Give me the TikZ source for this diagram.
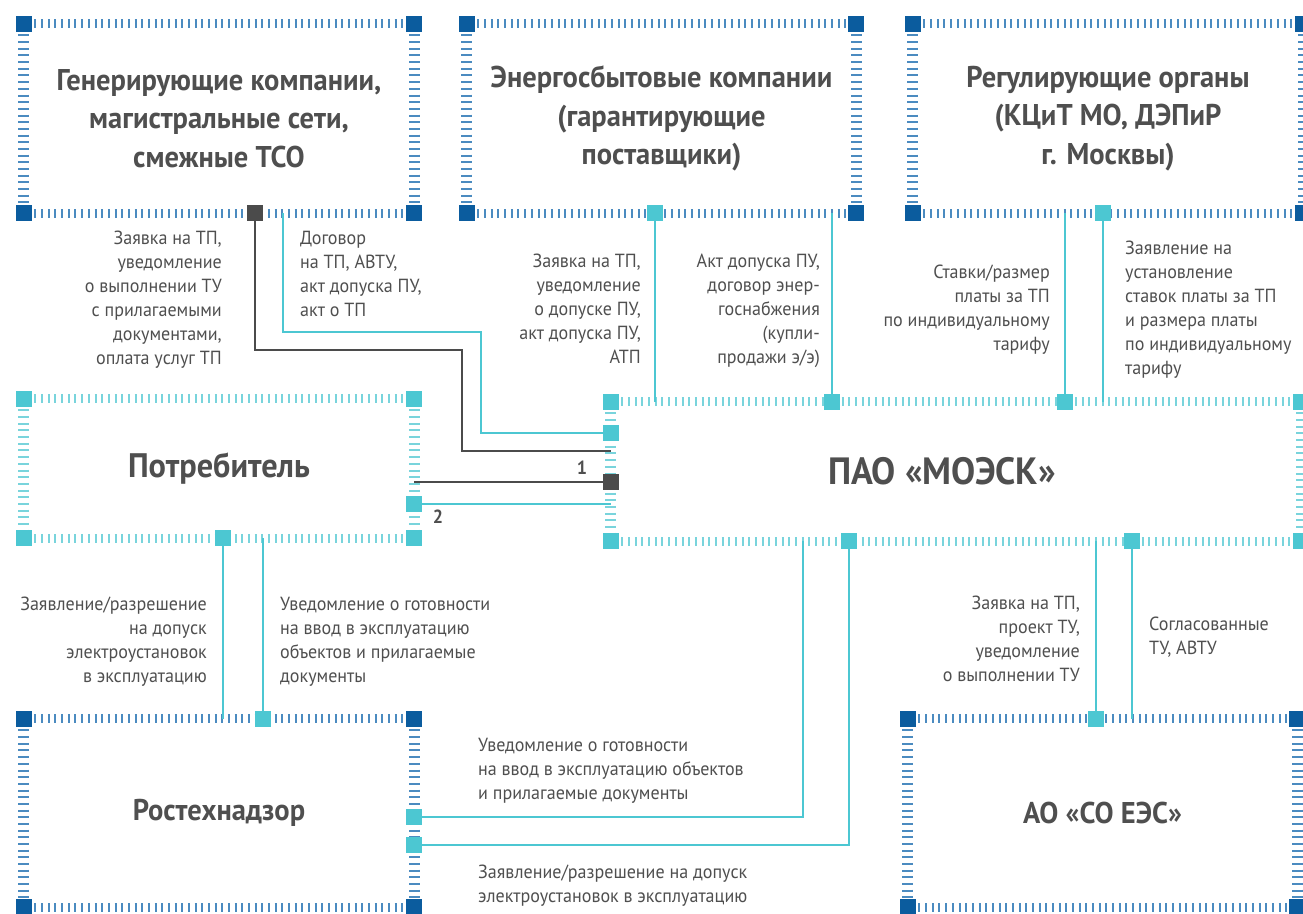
\documentclass[tikz,border=0pt]{standalone}
\usepackage{fontspec}
\setmainfont{PT Sans}[FakeStretch=0.95]
\usetikzlibrary{positioning}
\definecolor{frameblue}{HTML}{0B5C9E}
\definecolor{tickblue}{HTML}{4B8BC0}
\definecolor{linecyan}{HTML}{4CC7D2}
\definecolor{tickcyan}{HTML}{79D4DC}
\definecolor{linedark}{HTML}{4B4B4B}
\definecolor{textgray}{HTML}{4F4F4F}
\newlength{\sqsize}
\setlength{\sqsize}{16pt}

% ticked frame round a box node: #1 node, #2 corner colour, #3 tick colour
\newcommand{\tickframe}[3]{%
  \draw[#3, line width=9pt, dash pattern=on 2pt off 4.67pt, dash phase=-4pt]
    (#1.north west) -- (#1.north east) (#1.south west) -- (#1.south east);
  \draw[#3, line width=11pt, dash pattern=on 2pt off 4.67pt, dash phase=-4pt]
    (#1.north west) -- (#1.south west) (#1.north east) -- (#1.south east);
  \foreach \c in {north west, north east, south west, south east}
    \fill[#2] ([shift={(-0.5\sqsize,-0.5\sqsize)}]#1.\c) rectangle +(\sqsize,\sqsize);
}

\begin{document}
\begin{tikzpicture}[x=1pt, y=-1pt,
box/.style={inner sep=0pt, align=center, text=textgray, font=\fontsize{30}{38.5}\selectfont\bfseries}, % entity box
bigbox/.style={box, font=\fontsize{34}{40}\selectfont\bfseries}, % main parties
pin/.style={fill=linecyan, minimum size=\sqsize, inner sep=0pt}, % cyan anchor square
darkpin/.style={pin, fill=linedark}, % dark anchor square
flow/.style={linecyan, line width=2pt}, % cyan connector
darkflow/.style={linedark, line width=2pt}, % dark connector
note/.style={inner sep=0pt, text=textgray, font=\fontsize{19}{24}\selectfont}, % connector text
lnote/.style={note, anchor=north west, align=left},
rnote/.style={note, anchor=north east, align=right},
num/.style={note, font=\fontsize{19}{24}\selectfont\bfseries}
]

\useasboundingbox (0,0) rectangle (1303,913);

% boxes
\node[box, minimum width=390pt, minimum height=189pt] (gen) at (219,118.5)
  {Генерирующие компании,\\магистральные сети,\\смежные ТСО};
\node[box, minimum width=389pt, minimum height=189pt] (sbyt) at (661.5,118.5)
  {Энергосбытовые компании\\(гарантирующие\\поставщики)};
\node[box, minimum width=390pt, minimum height=189pt] (reg) at (1108,118.5)
  {Регулирующие органы\\(КЦиТ МО, ДЭПиР\\г. Москвы)};
\node[bigbox, minimum width=390pt, minimum height=139pt] (potr) at (219,468.5) {Потребитель};
\node[bigbox, font=\fontsize{38}{40}\selectfont\bfseries, minimum width=690pt, minimum height=139pt] (pao) at (956,471.5)
  {ПАО «МОЭСК»\hspace*{28pt}};
\node[box, minimum width=390pt, minimum height=188pt] (rost) at (219,813) {Ростехнадзор};
\node[box, minimum width=389pt, minimum height=188pt] (so) at (1102.5,813) {АО «СО ЕЭС»};

\tickframe{gen}{frameblue}{tickblue}
\tickframe{sbyt}{frameblue}{tickblue}
\tickframe{reg}{frameblue}{tickblue}
\tickframe{rost}{frameblue}{tickblue}
\tickframe{so}{frameblue}{tickblue}
\tickframe{potr}{linecyan}{tickcyan}
\tickframe{pao}{linecyan}{tickcyan}

% anchor squares
\node[darkpin] (gen-a) at (255,213) {};
\node[pin] (sbyt-a) at (655,213) {};
\node[pin] (reg-a) at (1103,213) {};
\node[pin] (pao-a) at (611,433) {};
\node[darkpin] (pao-e) at (611,482) {};
\node[pin] (pao-c) at (832,402) {};
\node[pin] (pao-d) at (1065,402) {};
\node[pin] (pao-f) at (849,541) {};
\node[pin] (pao-g) at (1132,541) {};
\node[pin] (potr-a) at (414,504) {};
\node[pin] (potr-b) at (223,538) {};
\node[pin] (rost-a) at (263,719) {};
\node[pin] (rost-b) at (414,817) {};
\node[pin] (rost-c) at (414,845) {};
\node[pin] (so-a) at (1096,719) {};

\coordinate (gen-o) at (283,213);
\coordinate (pao-b) at (611,451);
\coordinate (pao-o) at (803,541);

% connectors
\draw[darkflow] (gen-a) |- (462,350) |- (pao-b);
\draw[flow] (gen-o) |- (481,332) |- (pao-a);
\draw[flow] (sbyt-a) -- (sbyt-a |- pao.north);
\draw[flow] (sbyt.south -| pao-c) -- (pao-c);
\draw[flow] (pao-d) -- (pao-d |- reg.south);
\draw[flow] (reg-a) -- (reg-a |- pao.north);
\draw[darkflow] (potr.east |- pao-e) -- (pao-e);
\draw[flow] (potr-a) -- (potr-a -| pao.west);
\draw[flow] (potr-b) -- (potr-b |- rost.north);
\draw[flow] (potr.south -| rost-a) -- (rost-a);
\draw[flow] (rost-b) -| (pao-o);
\draw[flow] (rost-c) -| (pao-f);
\draw[flow] (so-a) -- (so-a |- pao.south);
\draw[flow] (pao-g) -- (pao-g |- so.north);

\node[num] (n1) at (582,468) {1};
\node[num] (n2) at (438,517) {2};

% texts on connectors
\node[rnote] (t1) at (222,231) {Заявка на ТП,\\уведомление\\о выполнении ТУ\\с прилагаемыми\\документами,\\оплата услуг ТП};
\node[lnote] (t2) at (300,231) {Договор\\на ТП, АВТУ,\\акт допуска ПУ,\\акт о ТП};
\node[rnote] (t3) at (641,254) {Заявка на ТП,\\уведомление\\о допуске ПУ,\\акт допуска ПУ,\\АТП};
\node[rnote] (t4) at (820,254) {Акт допуска ПУ,\\договор энер-\\госнабжения\\(купли-\\продажи э/э)};
\node[rnote] (t5) at (1050,265) {Ставки/размер\\платы за ТП\\по индивидуальному\\тарифу};
\node[lnote] (t6) at (1125,241) {Заявление на\\установление\\ставок платы за ТП\\и размера платы\\по индивидуальному\\тарифу};
\node[rnote] (t7) at (207,597) {Заявление/разрешение\\на допуск\\электроустановок\\в эксплуатацию};
\node[lnote] (t8) at (280,597) {Уведомление о готовности\\на ввод в эксплуатацию\\объектов и прилагаемые\\документы};
\node[lnote] (t9) at (478,738) {Уведомление о готовности\\на ввод в эксплуатацию объектов\\и прилагаемые документы};
\node[lnote] (t10) at (478,865) {Заявление/разрешение на допуск\\электроустановок в эксплуатацию};
\node[rnote] (t11) at (1080,596) {Заявка на ТП,\\проект ТУ,\\уведомление\\о выполнении ТУ};
\node[lnote] (t12) at (1149,617) {Согласованные\\ТУ, АВТУ};

\end{tikzpicture}
\end{document}
